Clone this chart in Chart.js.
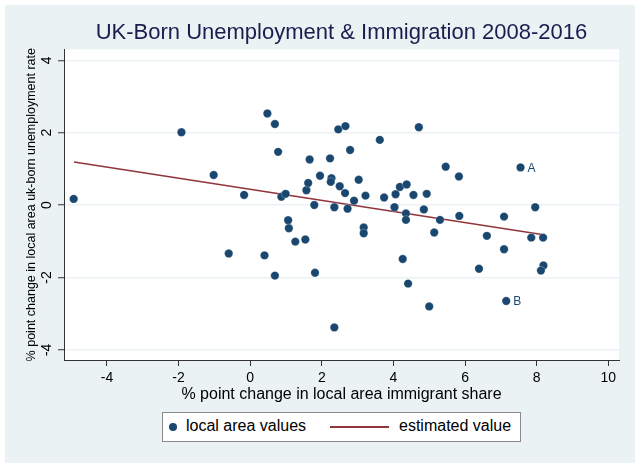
<!DOCTYPE html>
<html lang="en">
<head>
    <meta charset="UTF-8">
    <title>UK-Born Unemployment & Immigration 2008-2016</title>
    <script src="https://cdn.jsdelivr.net/npm/chart.js"></script>
    <style>
        body { margin: 0; background: #fff; font-family: "Liberation Sans", Arial, sans-serif; }
        #frame { position: absolute; left: 5px; top: 5px; width: 630px; height: 458px; background: #eaf2f3; }
        #legend { position: absolute; left: 157px; top: 407px; width: 357px; height: 28px;
                  background: #fff; border: 1px solid #8a8a8a; font-size: 16px; color: #000; }
        #legend span { position: absolute; white-space: nowrap; }
    </style>
</head>
<body>
    <div id="frame">
        <canvas id="chart" width="630" height="458"></canvas>
        <div id="legend"></div>
    </div>

    <script>
        // % point change in local area immigrant share
        const immigrantShare = [
            -4.93, -1.92, 0.48, 0.69, 0.78, -1.02, -0.17, 0.87, 0.99, 1.06,
            1.08, 1.26, 1.54, -0.60, 0.40, 0.69, 1.81, 2.35, 1.79, 2.35,
            1.57, 1.62, 1.66, 1.95, 2.23, 2.27, 2.25, 2.46, 2.50, 2.66,
            4.71, 3.62, 2.79, 2.65, 3.03, 2.90, 3.22, 2.72, 3.17, 3.17,
            3.74, 4.06, 4.18, 4.37, 4.56, 4.93, 4.03, 4.35, 4.35, 4.85,
            5.30, 5.14, 4.26, 4.41, 5.00, 5.46, 5.83, 5.84, 7.09, 6.61,
            7.09, 6.39, 7.55, 7.96, 7.85, 8.18, 8.19, 8.12, 7.15
        ];
        // % point change in local area uk-born unemployment rate
        const unemployment = [
            0.17, 2.01, 2.53, 2.24, 1.47, 0.83, 0.28, 0.23, 0.31, -0.42,
            -0.64, -1.01, -0.95, -1.34, -1.39, -1.95, -1.87, -3.38, 0.00, -0.06,
            0.41, 0.61, 1.26, 0.81, 1.29, 0.74, 0.64, 2.09, 0.52, 2.18,
            2.15, 1.80, 1.52, 0.33, 0.70, 0.12, 0.26, -0.10, -0.62, -0.78,
            0.21, 0.30, 0.50, 0.57, 0.28, 0.31, -0.06, -0.23, -0.41, -0.12,
            -0.41, -0.76, -1.49, -2.17, -2.80, 1.06, 0.79, -0.30, -0.32, -0.85,
            -1.22, -1.76, 1.04, -0.06, -0.90, -0.90, -1.67, -1.81, -2.65
        ];

        // fitted line end points
        const fitX = [-4.92, 8.15];
        const fitY = [1.19, -0.81];

        // marked areas
        const tagText = ['A', 'B'];
        const tagX = [7.55, 7.15];
        const tagY = [1.04, -2.65];

        const xTicks = [-4, -2, 0, 2, 4, 6, 8, 10];
        const yTicks = [-4, -2, 0, 2, 4];

        const navy = '#1a476f';
        const maroon = '#90353b';
        const axisGray = '#333333';
        const gridColor = '#eaf2f3';

        const plotBackground = {
            id: 'plotBackground',
            beforeDraw(chart) {
                const { ctx, chartArea: a } = chart;
                ctx.save();
                ctx.fillStyle = '#ffffff';
                ctx.fillRect(a.left, a.top, a.right - a.left, a.bottom - a.top);
                ctx.restore();
            }
        };

        const pointTags = {
            id: 'pointTags',
            afterDatasetsDraw(chart) {
                const { ctx, scales } = chart;
                ctx.save();
                ctx.fillStyle = navy;
                ctx.font = '12px "Liberation Sans", Arial, sans-serif';
                ctx.textBaseline = 'middle';
                tagText.forEach((t, i) => {
                    const px = scales.x.getPixelForValue(tagX[i]);
                    const py = scales.y.getPixelForValue(tagY[i]);
                    ctx.fillText(t, px + 7, py + 1);
                });
                ctx.restore();
            }
        };

        const ctx = document.getElementById('chart').getContext('2d');
        const chart = new Chart(ctx, {
            data: {
                datasets: [{
                    type: 'scatter',
                    label: 'local area values',
                    data: immigrantShare.map((x, i) => ({ x: x, y: unemployment[i] })),
                    backgroundColor: navy,
                    borderColor: 'rgba(255,255,255,0.5)',
                    borderWidth: 0.5,
                    pointRadius: 4.2,
                    pointHoverRadius: 4.2
                }, {
                    type: 'line',
                    label: 'estimated value',
                    data: fitX.map((x, i) => ({ x: x, y: fitY[i] })),
                    borderColor: maroon,
                    borderWidth: 1.5,
                    pointRadius: 0,
                    fill: false
                }]
            },
            options: {
                responsive: false,
                animation: false,
                events: [],
                layout: { padding: { left: 0, right: 16, top: 0, bottom: 55 } },
                plugins: {
                    legend: { display: false },
                    tooltip: { enabled: false },
                    title: {
                        display: true,
                        fullSize: false,
                        text: 'UK-Born Unemployment & Immigration 2008-2016',
                        color: '#1c1c4f',
                        font: { family: '"Liberation Sans", Arial, sans-serif', size: 22, weight: 'normal', lineHeight: 1.2 },
                        padding: { top: 15, bottom: 3 }
                    }
                },
                scales: {
                    x: {
                        type: 'linear',
                        min: -5.2,
                        max: 10.3,
                        afterBuildTicks: s => { s.ticks = xTicks.map(v => ({ value: v })); },
                        afterFit: s => { s.height = 48; },
                        grid: { drawOnChartArea: false, drawTicks: true, tickLength: 6, tickColor: axisGray, tickWidth: 1 },
                        border: { display: true, color: axisGray, width: 1 },
                        ticks: {
                            color: '#000',
                            padding: 4,
                            maxRotation: 0,
                            font: { family: '"Liberation Sans", Arial, sans-serif', size: 14 }
                        },
                        title: {
                            display: true,
                            text: '% point change in local area immigrant share',
                            color: '#000',
                            padding: { top: 0, bottom: 4 },
                            font: { family: '"Liberation Sans", Arial, sans-serif', size: 16 }
                        }
                    },
                    y: {
                        type: 'linear',
                        min: -4.28,
                        max: 4.3,
                        afterBuildTicks: s => { s.ticks = yTicks.map(v => ({ value: v })); },
                        afterFit: s => { s.width = 59; },
                        grid: { color: gridColor, lineWidth: 1.5, drawTicks: true, tickLength: 6, tickColor: axisGray, tickWidth: 1 },
                        border: { display: true, color: axisGray, width: 1 },
                        ticks: {
                            color: '#000',
                            padding: 5,
                            minRotation: 90,
                            maxRotation: 90,
                            crossAlign: 'center',
                            font: { family: '"Liberation Sans", Arial, sans-serif', size: 14 }
                        },
                        title: {
                            display: true,
                            text: '% point change in local area uk-born unemployment rate',
                            color: '#000',
                            padding: { top: 19, bottom: 0 },
                            font: { family: '"Liberation Sans", Arial, sans-serif', size: 12.5 }
                        }
                    }
                }
            },
            plugins: [plotBackground, pointTags]
        });

        // legend in a bordered box, as in the original
        const legend = document.getElementById('legend');
        const dsets = chart.data.datasets;
        legend.innerHTML =
            '<span style="left:6px;top:10px;width:8px;height:8px;border-radius:50%;background:' + navy + '"></span>' +
            '<span style="left:23px;top:4px">' + dsets[0].label + '</span>' +
            '<span style="left:167px;top:13px;width:59px;height:0;border-top:2px solid ' + maroon + '"></span>' +
            '<span style="left:236px;top:4px">' + dsets[1].label + '</span>';
    </script>
</body>
</html>
